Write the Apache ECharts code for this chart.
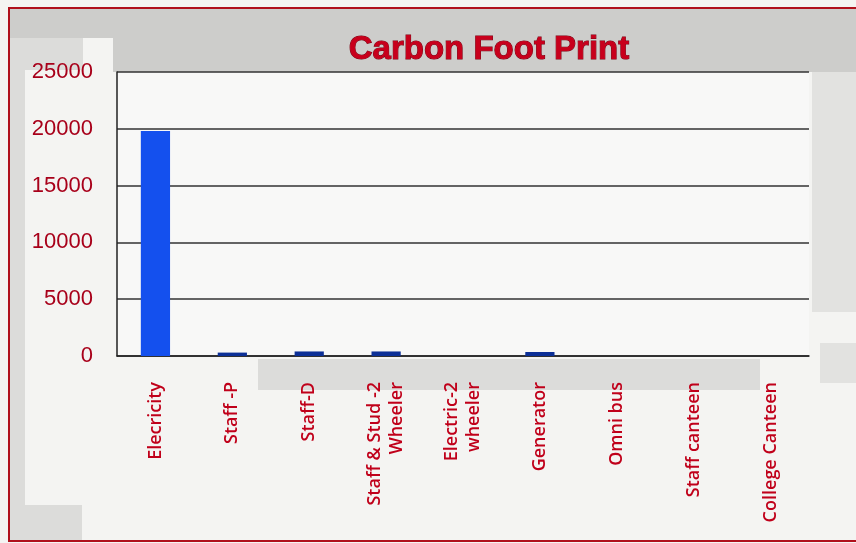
<!DOCTYPE html>
<html>
<head>
<meta charset="utf-8">
<script src="https://cdn.jsdelivr.net/npm/echarts@6/dist/echarts.min.js"></script>
<style>
html,body{margin:0;padding:0;background:#f4f4f2;}
#c{width:856px;height:543px;}
</style>
</head>
<body>
<div id="c"></div>
<script>
const categories = ['Elecricity', 'Staff -P', 'Staff-D', 'Staff & Stud -2\nWheeler', 'Electric-2\nwheeler', 'Generator', 'Omni bus', 'Staff canteen', 'College Canteen'];
const values = [19800, 300, 400, 400, 0, 350, 0, 0, 0];
const yTicks = { min: 0, max: 25000, interval: 5000 };
const titleText = 'Carbon Foot Print';

const chart = echarts.init(document.getElementById('c'), null, { renderer: 'canvas' });
const gray = '#cdcdcb';
const lightGray = '#dcdcda';
chart.setOption({
  backgroundColor: '#f4f4f2',
  animation: false,
  graphic: [
    { type: 'rect', z: -10, shape: { x: 10, y: 9, width: 846, height: 29 }, style: { fill: gray } },
    { type: 'rect', z: -10, shape: { x: 10, y: 38, width: 73, height: 32 }, style: { fill: lightGray } },
    { type: 'rect', z: -10, shape: { x: 113, y: 38, width: 743, height: 34 }, style: { fill: gray } },
    { type: 'rect', z: -10, shape: { x: 10, y: 70, width: 15, height: 471 }, style: { fill: lightGray } },
    { type: 'rect', z: -10, shape: { x: 10, y: 505, width: 72, height: 36 }, style: { fill: lightGray } },
    { type: 'rect', z: -10, shape: { x: 812, y: 72, width: 44, height: 240 }, style: { fill: '#e2e2e0' } },
    { type: 'rect', z: -10, shape: { x: 258, y: 359, width: 502, height: 31 }, style: { fill: lightGray } },
    { type: 'rect', z: -10, shape: { x: 820, y: 343, width: 36, height: 40 }, style: { fill: '#e2e2e0' } },
    { type: 'rect', z: 100, shape: { x: 9, y: 8, width: 860, height: 533 }, style: { fill: 'none', stroke: '#b0101c', lineWidth: 2 } }
  ],
  title: {
    text: titleText,
    left: 484,
    top: 28,
    textAlign: 'center',
    textStyle: {
      fontFamily: "'Liberation Sans', Arial, sans-serif",
      fontWeight: 'bold',
      fontSize: 33,
      color: '#c8001c',
      textBorderColor: '#7a0012',
      textBorderWidth: 1
    }
  },
  grid: {
    left: 117, right: 47, top: 72, bottom: 187,
    show: true, backgroundColor: '#f8f8f7', borderWidth: 0
  },
  xAxis: {
    type: 'category',
    data: categories,
    axisLine: { show: true, lineStyle: { color: '#222', width: 1.5 } },
    axisTick: { show: false },
    axisLabel: {
      rotate: 90,
      interval: 0,
      margin: 26,
      color: '#c0001a',
      fontFamily: "'Open Sans', sans-serif",
      fontWeight: 600,
      fontSize: 18,
      lineHeight: 22
    }
  },
  yAxis: {
    type: 'value',
    min: yTicks.min, max: yTicks.max, interval: yTicks.interval,
    axisLine: { show: true, lineStyle: { color: '#222', width: 1.5 } },
    axisTick: { show: false },
    splitLine: { lineStyle: { color: '#333', width: 1.5 } },
    axisLabel: {
      margin: 24,
      color: '#a8001a',
      fontFamily: "'Liberation Sans', Arial, sans-serif",
      fontSize: 22,
      formatter: function (v) { return String(v); }
    }
  },
  series: [{
    type: 'bar',
    data: values,
    barWidth: '38%',
    itemStyle: {
      color: function (p) { return p.value > 1000 ? '#1450ee' : '#0c2f96'; }
    }
  }]
});
</script>
</body>
</html>
